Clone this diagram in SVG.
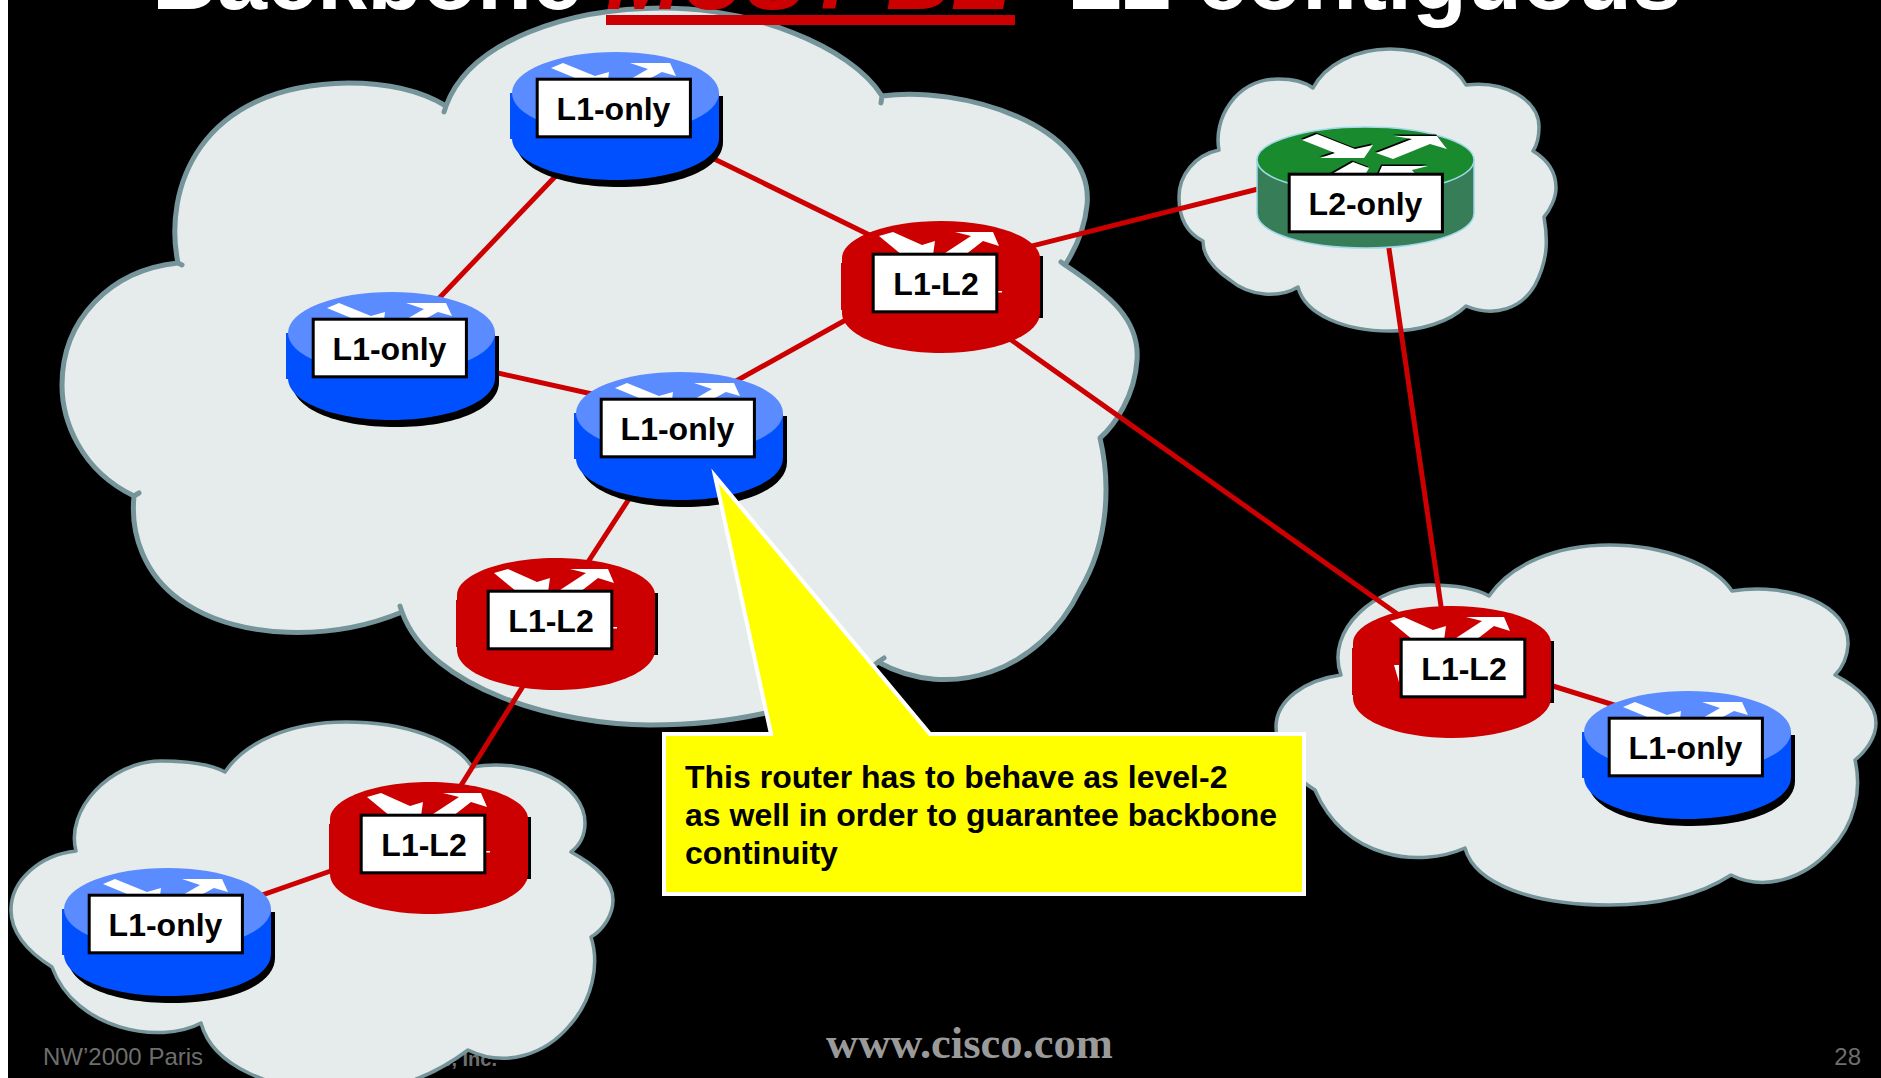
<svg xmlns="http://www.w3.org/2000/svg" xmlns:xlink="http://www.w3.org/1999/xlink" width="1881" height="1078" viewBox="0 0 1881 1078">
<style>
text{font-family:"Liberation Sans",Arial,sans-serif}
.cloud{fill:#e6ecec;stroke:#75959a;stroke-width:3.5;stroke-linejoin:round}
.cloud.big{stroke-width:5}
.link{stroke:#cc0000;stroke-width:5;fill:none}
.lbl{fill:#fff;stroke:#000;stroke-width:3}
.lt{font-size:32px;font-weight:700;fill:#000;text-anchor:middle}
.foot{font-size:24px;fill:#6e6e6e}
.arw{fill:#fff}
.title{font-size:90px;font-weight:700;fill:#fff}
</style>
<defs>
<g id="blue">
<path d="M-20 18H187V64C187 90 145 109 84 109C22 109 -20 90 -20 64Z" fill="#000"/>
<rect x="-26" y="15" width="4" height="46" fill="#0050ff"/>
<path d="M-24 15h207v45C183 84 137 102 79.500 102C22 102 -24 84 -24 60Z" fill="#0050ff"/>
<ellipse cx="79.500" cy="15" rx="103.500" ry="41" fill="#5a8cff"/>
<polygon class="arw" points="15,-10 27,-15 59,-2 73,-6 72,2 44,2"/>
<polygon class="arw" points="94,-15 134,-15 140,-2 126,-6 111,2 93,2 112,-9"/>
</g>
<g id="red">
<rect x="40" y="3" width="131" height="62" fill="#000"/>
<rect x="-31" y="10" width="4" height="47" fill="#cc0000"/>
<path d="M-30 5C-30 -15 14 -32 69 -32C124 -32 168 -15 168 5V60C168 82 124 100 69 100C14 100 -30 82 -30 60Z" fill="#cc0000"/>
<polygon class="arw" points="7,-17 21,-21 50,-8 63,-12 61,2 30,2"/>
<polygon class="arw" points="83,-21 121,-21 127,-7 111,-12 93,2 70,2 99,-17"/>
</g>
<g id="green">
<path d="M-31 -13V40C-31 60 17 75 77.500 75C138 75 186 60 186 40V-13Z" fill="#377d57" stroke="#9fd8e8" stroke-width="1.500"/>
<ellipse cx="77.500" cy="-13" rx="108.500" ry="33" fill="#1a8a2e" stroke="#9fd8e8" stroke-width="1.500"/>
<g fill="#000" transform="translate(-1,-1.500)">
<polygon points="14,-33 29,-39 67,-24 85,-28 76,-15 32,-15 47,-20"/>
<polygon points="88,-20 124,-34 106,-37 149,-37 159,-24 142,-29 105,-14"/>
<polygon points="42,2 65,-11 81,-5 77,2"/>
<polygon points="90,2 94,-7 140,-7 124,-3 129,2"/>
</g>
<polygon class="arw" points="14,-33 29,-39 67,-24 85,-28 76,-15 32,-15 47,-20"/>
<polygon class="arw" points="88,-20 124,-34 106,-37 149,-37 159,-24 142,-29 105,-14"/>
<polygon class="arw" points="42,2 65,-11 81,-5 77,2"/>
<polygon class="arw" points="90,2 94,-7 140,-7 124,-3 129,2"/>
</g>
</defs>
<rect width="1881" height="1078" fill="#000"/>
<rect width="8" height="1078" fill="#fff"/>
<g id="footer">
<text class="foot" x="43" y="1065">NW’2000 Paris</text>
<text class="foot" x="497" y="1066" text-anchor="end" style="font-size:20px;font-weight:700">s, Inc.</text>
<text x="826" y="1058" style="font-family:'Liberation Serif','Times New Roman',serif;font-size:44.500px;font-weight:700;fill:#9a9a9a">www.cisco.com</text>
<text class="foot" x="1861" y="1065" text-anchor="end">28</text>
</g>
<g id="clouds">
<path id="cloud-main" class="cloud big" d="M446 106L444 112L446 106C470 40 570 8 663 8C750 8 850 45 882 96L881 103L882 96C960 85 1095 125 1087 205C1085 225 1078 245 1065 265L1061 262L1065 265C1110 295 1140 320 1137 360C1135 395 1115 425 1100 438C1110 480 1110 540 1080 590C1040 672 950 702 878 662L884 658L878 662C830 705 740 725 650 725C560 725 430 690 402 612L400 606L402 612C335 640 240 642 180 600C145 575 130 535 134 496L139 493L134 496C80 470 62 420 62 385C62 320 110 270 178 263L182 265L178 263C163 190 198 85 348 83C385 83 420 90 446 106Z"/>
<path id="cloud-top-right" class="cloud" d="M1313 88C1325 65 1355 49 1390 49C1425 49 1455 65 1466 85C1505 80 1539 100 1539 127C1539 135 1537 145 1533 151C1548 160 1556 172 1556 188C1556 198 1550 210 1544 217C1548 240 1548 260 1535 285C1522 308 1495 318 1466 306C1450 322 1420 331 1390 331C1345 331 1305 315 1298 287C1280 298 1250 297 1230 280C1212 268 1203 255 1203 241C1185 232 1179 215 1179 197C1179 175 1195 155 1219 150C1213 120 1235 79 1278 79C1292 79 1305 82 1313 88Z"/>
<path id="cloud-right" class="cloud" d="M1489 596C1510 565 1555 545 1609 545C1665 545 1715 565 1732 591C1790 582 1850 605 1848 645C1847 660 1842 668 1835 675C1860 688 1876 705 1876 723C1876 738 1865 752 1855 760C1862 790 1855 825 1830 850C1805 878 1765 892 1731 875C1700 895 1660 905 1609 905C1535 905 1475 885 1465 848C1420 868 1345 860 1315 790C1290 775 1276 750 1276 727C1276 700 1305 680 1341 675C1325 630 1375 585 1430 585C1455 585 1475 588 1489 596Z"/>
<path id="cloud-bottom-left" class="cloud" d="M225 772C245 742 290 722 346 722C405 722 455 740 472 767C530 757 585 785 585 823C585 835 580 845 571 852C595 865 613 880 613 900C613 915 603 930 591 937C600 965 592 1000 570 1025C545 1055 505 1068 468 1050C435 1075 395 1092 345 1092C270 1092 212 1065 201 1023C160 1045 75 1030 52 967C25 950 11 930 11 910C11 880 40 855 76 851C65 810 110 761 161 761C190 761 210 764 225 772Z"/>
</g>
<g id="connectors">
<line class="link" x1="700" y1="152" x2="890" y2="245"/>
<line class="link" x1="570" y1="161" x2="425" y2="313"/>
<line class="link" x1="480" y1="369" x2="610" y2="398"/>
<line class="link" x1="720" y1="390" x2="860" y2="312"/>
<line class="link" x1="640" y1="482" x2="575" y2="582"/>
<line class="link" x1="1000" y1="254" x2="1270" y2="186"/>
<line class="link" x1="1000" y1="332" x2="1410" y2="623"/>
<line class="link" x1="1387" y1="235" x2="1443" y2="620"/>
<line class="link" x1="1540" y1="682" x2="1630" y2="710"/>
<line class="link" x1="530" y1="675" x2="450" y2="803"/>
<line class="link" x1="345" y1="866" x2="245" y2="901"/>
</g>
<g id="r1" transform="translate(536,78)"><use href="#blue"/><rect class="lbl" x="1.200" y="1.200" width="153.200" height="57.600"/><text class="lt" x="77.500" y="42">L1-only</text></g>
<g id="r2" transform="translate(312,318)"><use href="#blue"/><rect class="lbl" x="1.200" y="1.200" width="153.200" height="57.600"/><text class="lt" x="77.500" y="42">L1-only</text></g>
<g id="r3" transform="translate(600,398)"><use href="#blue"/><rect class="lbl" x="1.200" y="1.200" width="153.200" height="57.600"/><text class="lt" x="77.500" y="42">L1-only</text></g>
<g id="r4" transform="translate(88,894)"><use href="#blue"/><rect class="lbl" x="1.200" y="1.200" width="153.200" height="57.600"/><text class="lt" x="77.500" y="42">L1-only</text></g>
<g id="r5" transform="translate(1608,717)"><use href="#blue"/><rect class="lbl" x="1.200" y="1.200" width="153.200" height="57.600"/><text class="lt" x="77.500" y="42">L1-only</text></g>
<g id="a" transform="translate(872,253)"><use href="#red"/><rect class="arw" x="126" y="38" width="4" height="1.500"/><rect class="lbl" x="1.200" y="1.200" width="123.600" height="57.600"/><text class="lt" x="64" y="42">L1-L2</text></g>
<g id="b" transform="translate(487,590)"><use href="#red"/><rect class="arw" x="126" y="37" width="4" height="1.500"/><rect class="lbl" x="1.200" y="1.200" width="123.600" height="57.600"/><text class="lt" x="64" y="42">L1-L2</text></g>
<g id="c" transform="translate(360,814)"><use href="#red"/><rect class="arw" x="126" y="37" width="4" height="1.500"/><rect class="lbl" x="1.200" y="1.200" width="123.600" height="57.600"/><text class="lt" x="64" y="42">L1-L2</text></g>
<g id="d" transform="translate(1400,638)"><use href="#red" x="-17"/><polygon class="arw" points="-6,27 -1,27 -1,44"/><rect class="lbl" x="1.200" y="1.200" width="123.600" height="57.600"/><text class="lt" x="64" y="42">L1-L2</text></g>
<g id="l2" transform="translate(1288,173)"><use href="#green"/><rect class="lbl" x="1.200" y="1.200" width="153.200" height="57.600"/><text class="lt" x="77.500" y="42">L2-only</text></g>
<g id="callout">
<polygon points="664,734 771,734 715,476 930,734 1304,734 1304,894 664,894" fill="#ffff00" stroke="#fff" stroke-width="4" stroke-miterlimit="10"/>
<text style="font-size:32px;font-weight:700" fill="#000"><tspan x="685" y="788">This router has to behave as level-2</tspan><tspan x="685" y="826">as well in order to guarantee backbone</tspan><tspan x="685" y="864">continuity</tspan></text>
</g>
<g id="title">
<text class="title" x="152" y="9">Backbone</text>
<text class="title" x="606" y="9" style="font-style:italic;fill:#cc0000">MUST BE</text>
<rect x="606" y="15" width="409" height="10" fill="#cc0000"/>
<text class="title" x="1067" y="9">L2 contiguous</text>
</g>
</svg>
